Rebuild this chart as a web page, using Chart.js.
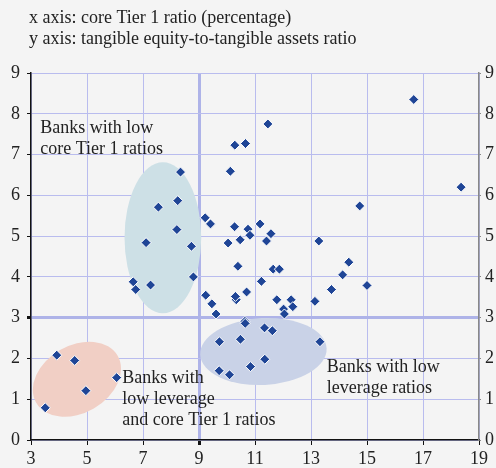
<!DOCTYPE html>
<html>
<head>
<meta charset="utf-8">
<script src="https://cdn.jsdelivr.net/npm/chart.js@4.4.1/dist/chart.umd.min.js"></script>
<style>
  html, body { margin: 0; padding: 0; background: #f4f4f4; }
  #wrap { width: 496px; height: 468px; }
</style>
</head>
<body>
<div id="wrap"><canvas id="chart" width="496" height="468"></canvas></div>
<script>
// core Tier 1 ratio (x) and tangible equity-to-tangible assets ratio (y)
const coreTier1 = [
  8.34, 7.55, 8.24, 8.21, 7.11, 8.73, 8.80, 6.65, 6.74, 7.27,
  9.22, 9.41, 9.24, 9.46, 9.61, 10.28, 10.66, 10.12, 10.27, 10.75,
  11.18, 11.57, 10.82, 10.47, 10.04, 11.41, 13.28, 10.39, 11.65, 11.87,
  11.23, 10.70, 10.33, 10.30, 11.78, 12.29, 12.35, 12.02, 12.05, 13.14,
  13.73, 10.64, 10.65, 11.34, 11.62, 9.73, 10.48, 13.32, 11.35, 10.84,
  9.72, 10.09, 18.36, 14.74, 14.35, 14.13, 15.00, 16.67, 11.46,
  3.92, 4.56, 6.06, 4.96, 3.51
];
const tangibleEquity = [
  6.57, 5.71, 5.87, 5.16, 4.84, 4.75, 4.00, 3.88, 3.69, 3.80,
  5.45, 5.30, 3.55, 3.34, 3.09, 7.23, 7.27, 6.59, 5.23, 5.17,
  5.30, 5.06, 5.02, 4.91, 4.83, 4.88, 4.88, 4.26, 4.19, 4.19,
  3.89, 3.63, 3.44, 3.52, 3.44, 3.44, 3.27, 3.21, 3.09, 3.40,
  3.69, 2.91, 2.86, 2.75, 2.68, 2.41, 2.47, 2.41, 1.98, 1.80,
  1.70, 1.60, 6.20, 5.74, 4.36, 4.05, 3.79, 8.35, 7.75,
  2.08, 1.95, 1.53, 1.21, 0.79
];
const titleLines = [
  'x axis: core Tier 1 ratio (percentage)',
  'y axis: tangible equity-to-tangible assets ratio'
];

const SERIF = '"Liberation Serif", "DejaVu Serif", serif';
const GRID = '#b9bcee';
const THICK = '#aeb3e8';

const points = coreTier1.map((x, i) => ({ x, y: tangibleEquity[i] }));

// shaded groups and their captions, placed in data units
const groups = [
  { cx: 7.71, cy: 4.96, rx: 1.37, ry: 1.85, rot: 0, fill: '#cde0e6' },
  { cx: 4.64, cy: 1.49, rx: 1.68, ry: 0.83, rot: -30, fill: '#f1cfc5' },
  { cx: 11.30, cy: 2.17, rx: 2.26, ry: 0.82, rot: -3, fill: '#c9d2e7' }
];
const captions = [
  { x: 3.33, y: 7.65, lines: ['Banks with low', 'core Tier 1 ratios'] },
  { x: 6.26, y: 1.51, lines: ['Banks with', 'low leverage', 'and core Tier 1 ratios'] },
  { x: 13.56, y: 1.78, lines: ['Banks with low', 'leverage ratios'] }
];

const decor = {
  id: 'decor',
  beforeDatasetsDraw(chart) {
    const { ctx } = chart;
    const xs = chart.scales.x, ys = chart.scales.y;
    const pxPerX = Math.abs(xs.getPixelForValue(1) - xs.getPixelForValue(0));
    const pxPerY = Math.abs(ys.getPixelForValue(1) - ys.getPixelForValue(0));
    ctx.save();
    groups.forEach(g => {
      ctx.beginPath();
      ctx.ellipse(xs.getPixelForValue(g.cx), ys.getPixelForValue(g.cy),
        g.rx * pxPerX, g.ry * pxPerY, g.rot * Math.PI / 180, 0, 2 * Math.PI);
      ctx.fillStyle = g.fill;
      ctx.fill();
    });
    ctx.restore();
  },
  afterDatasetsDraw(chart) {
    const { ctx } = chart;
    const xs = chart.scales.x, ys = chart.scales.y;
    ctx.save();
    ctx.fillStyle = '#222';
    ctx.font = '18px ' + SERIF;
    ctx.textBaseline = 'middle';
    ctx.textAlign = 'left';
    captions.forEach(c => {
      const px = xs.getPixelForValue(c.x), py = ys.getPixelForValue(c.y);
      c.lines.forEach((t, i) => ctx.fillText(t, px, py + i * 21));
    });
    titleLines.forEach((t, i) => ctx.fillText(t, 29, 18 + i * 21));
    ctx.restore();
  }
};

new Chart(document.getElementById('chart'), {
  type: 'scatter',
  data: {
    datasets: [{
      data: points,
      pointStyle: 'rectRot',
      pointRadius: 5,
      pointHoverRadius: 5,
      backgroundColor: '#1f4596',
      borderColor: '#ffffff',
      borderWidth: 1
    }]
  },
  options: {
    responsive: false,
    animation: false,
    layout: { padding: { top: 73, left: 0, right: 0, bottom: 0 } },
    plugins: { legend: { display: false }, tooltip: { enabled: false } },
    scales: {
      x: {
        type: 'linear', min: 3, max: 19,
        afterFit: s => { s.height = 28; },
        ticks: { stepSize: 2, color: '#222', font: { family: SERIF, size: 18 }, padding: 3 },
        grid: {
          color: c => c.tick && c.tick.value === 9 ? THICK : GRID,
          lineWidth: c => c.tick && c.tick.value === 9 ? 3 : 1,
          tickColor: '#111', tickLength: 5
        },
        border: { color: '#111', width: 1.5 }
      },
      y: {
        type: 'linear', position: 'left', min: 0, max: 9,
        afterFit: s => { s.width = 31; },
        ticks: { stepSize: 1, color: '#222', font: { family: SERIF, size: 18 }, padding: 7 },
        grid: {
          color: c => c.tick && c.tick.value === 3 ? THICK : GRID,
          lineWidth: c => c.tick && c.tick.value === 3 ? 3 : 1,
          tickColor: '#111', tickLength: 4
        },
        border: { color: '#111', width: 1.5 }
      },
      y2: {
        type: 'linear', position: 'right', min: 0, max: 9,
        afterFit: s => { s.width = 17; },
        ticks: { stepSize: 1, color: '#222', font: { family: SERIF, size: 18 }, padding: 4 },
        grid: { drawOnChartArea: false, tickColor: '#888', tickLength: 2 },
        border: { color: '#888', width: 1.5 }
      }
    }
  },
  plugins: [decor]
});
</script>
</body>
</html>
